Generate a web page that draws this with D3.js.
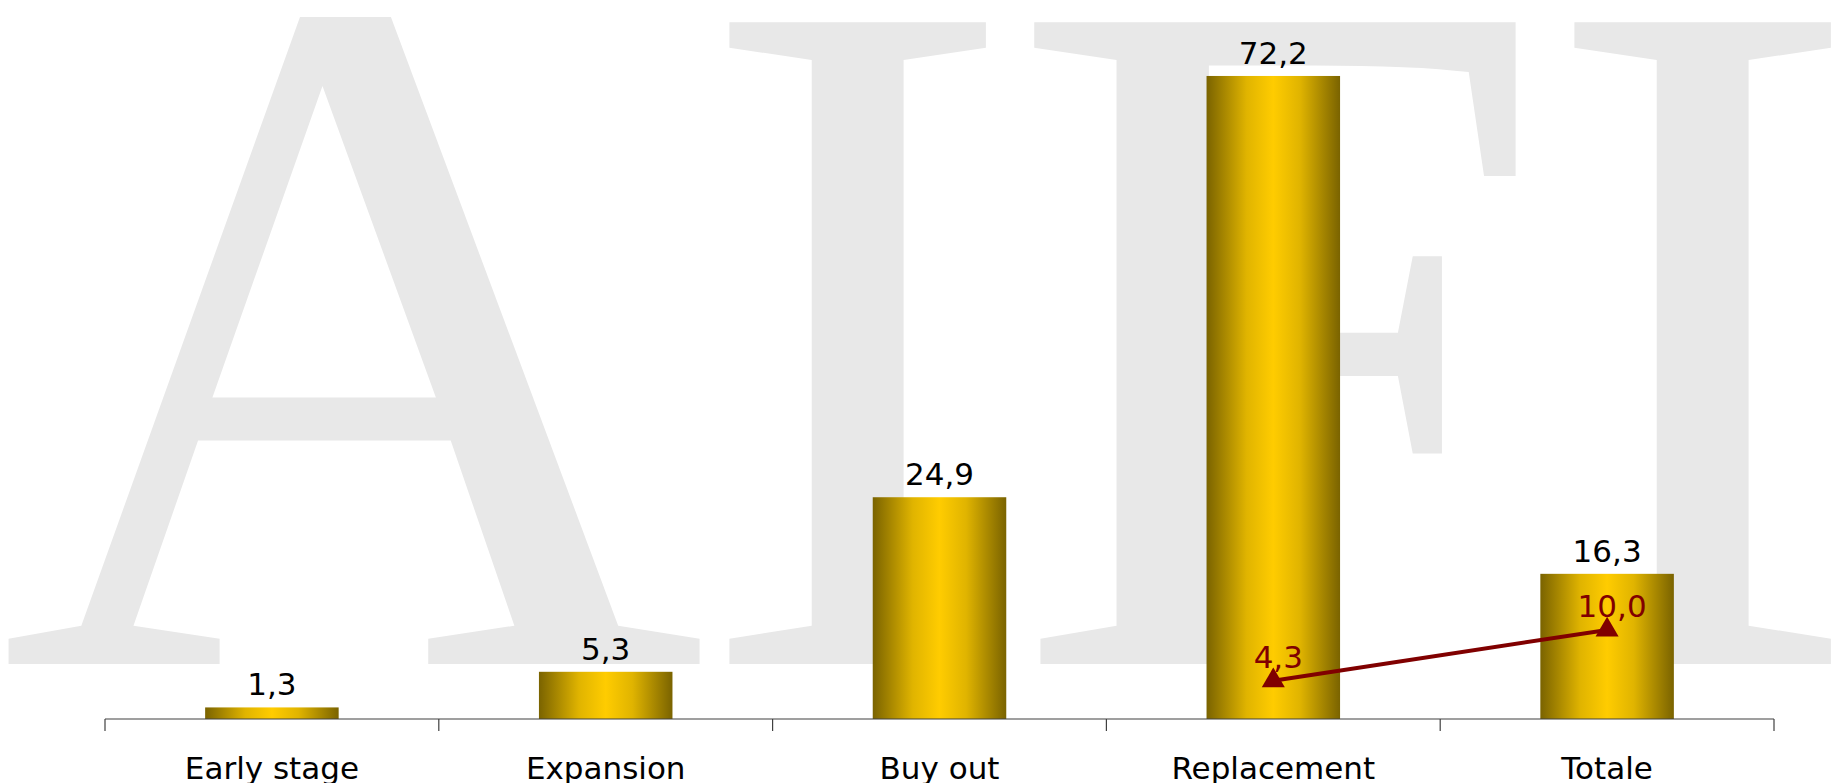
<!DOCTYPE html>
<html>
<head>
<meta charset="utf-8">
<script src="https://cdn.jsdelivr.net/npm/d3@7"></script>
<style>
  html, body { margin: 0; padding: 0; background: #fff; }
  svg { display: block; }
</style>
</head>
<body>
<div id="chart"></div>
<script>
(function () {
  'use strict';

  const categories = ['Early stage', 'Expansion', 'Buy out', 'Replacement', 'Totale'];
  const barValues = [1.3, 5.3, 24.9, 72.2, 16.3];
  const lineCategories = ['Replacement', 'Totale'];
  const lineValues = [4.3, 10.0];
  const watermark = ['A', 'I', 'F', 'I'];
  const watermarkX = [-1, 694, 1006, 1539];

  const W = 1836, H = 783;
  const fmt = (v) => d3.format('.1f')(v).replace('.', ',');

  const svg = d3.select('#chart').append('svg')
    .attr('width', W).attr('height', H);

  // bar gradient: dark olive edges, gold center
  const grad = svg.append('defs').append('linearGradient')
    .attr('id', 'gold').attr('x1', '0%').attr('x2', '100%').attr('y1', '0%').attr('y2', '0%');
  [[0, '#7a6300'], [0.3, '#e0b400'], [0.5, '#ffcc00'], [0.7, '#e0b400'], [1, '#7a6300']]
    .forEach(([o, c]) => grad.append('stop').attr('offset', o).attr('stop-color', c));

  // watermark
  svg.append('g').selectAll('text')
    .data(watermark)
    .enter().append('text')
    .attr('x', (d, i) => watermarkX[i])
    .attr('y', 664)
    .attr('font-family', 'Liberation Serif, Times New Roman, serif')
    .attr('font-size', 980)
    .attr('fill', '#e8e8e8')
    .text((d) => d);

  const xScale = d3.scaleBand()
    .domain(categories)
    .range([105, 1774])
    .paddingInner(0.6)
    .paddingOuter(0.3);

  const yScale = d3.scaleLinear().domain([0, 80]).range([719, 6.5]);

  const step = xScale.step();
  const bw = xScale.bandwidth();

  // bars
  svg.append('g').selectAll('rect')
    .data(categories)
    .enter().append('rect')
    .attr('x', (d) => xScale(d))
    .attr('y', (d, i) => yScale(barValues[i]))
    .attr('width', bw)
    .attr('height', (d, i) => yScale(0) - yScale(barValues[i]))
    .attr('fill', 'url(#gold)');

  // bar labels
  svg.append('g').selectAll('text')
    .data(categories)
    .enter().append('text')
    .attr('x', (d) => xScale(d) + bw / 2)
    .attr('y', (d, i) => yScale(barValues[i]) - 12)
    .attr('text-anchor', 'middle')
    .attr('font-family', 'DejaVu Sans, Verdana, sans-serif')
    .attr('font-size', 31)
    .attr('fill', '#000')
    .text((d, i) => fmt(barValues[i]));

  // category axis with ticks between categories
  const axis = svg.append('g').attr('transform', `translate(0,${yScale(0)})`);
  const x0 = xScale(categories[0]) + bw / 2 - step / 2;
  const x1 = xScale(categories[categories.length - 1]) + bw / 2 + step / 2;
  axis.append('line')
    .attr('x1', x0).attr('x2', x1)
    .attr('stroke', '#404040').attr('stroke-width', 1.2);
  axis.selectAll('.tick')
    .data(d3.range(categories.length + 1))
    .enter().append('line')
    .attr('x1', (i) => x0 + i * step).attr('x2', (i) => x0 + i * step)
    .attr('y1', 0).attr('y2', 12)
    .attr('stroke', '#404040').attr('stroke-width', 1.2);
  axis.selectAll('.lbl')
    .data(categories)
    .enter().append('text')
    .attr('x', (d) => xScale(d) + bw / 2)
    .attr('y', 60)
    .attr('text-anchor', 'middle')
    .attr('font-family', 'DejaVu Sans, Verdana, sans-serif')
    .attr('font-size', 31)
    .attr('fill', '#000')
    .text((d) => d);

  // line series
  const pts = lineCategories.map((c, i) => ({ x: xScale(c) + bw / 2, y: yScale(lineValues[i]), v: lineValues[i] }));
  svg.append('path')
    .datum(pts)
    .attr('fill', 'none')
    .attr('stroke', '#800000')
    .attr('stroke-width', 4)
    .attr('d', d3.line().x((d) => d.x).y((d) => d.y));

  svg.append('g').selectAll('path')
    .data(pts)
    .enter().append('path')
    .attr('transform', (d) => `translate(${d.x},${d.y})`)
    .attr('d', d3.symbol().type(d3.symbolTriangle).size(230))
    .attr('fill', '#800000');

  svg.append('g').selectAll('text')
    .data(pts)
    .enter().append('text')
    .attr('x', (d) => d.x + 5)
    .attr('y', (d) => d.y - 13)
    .attr('text-anchor', 'middle')
    .attr('font-family', 'DejaVu Sans, Verdana, sans-serif')
    .attr('font-size', 31)
    .attr('fill', '#800000')
    .text((d) => fmt(d.v));
})();
</script>
</body>
</html>
